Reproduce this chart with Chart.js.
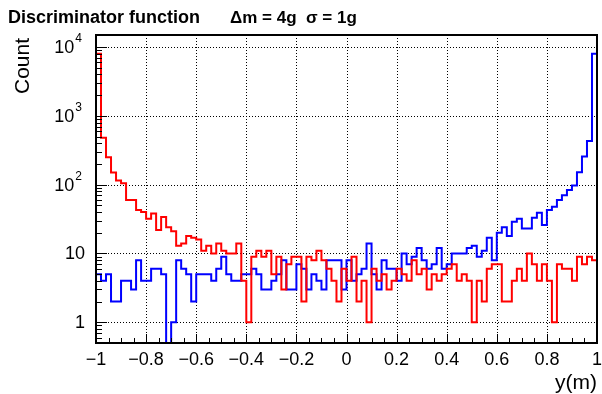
<!DOCTYPE html>
<html>
<head>
<meta charset="utf-8">
<script src="https://cdn.jsdelivr.net/npm/chart.js@4.4.1/dist/chart.umd.min.js"></script>
<style>
  html, body { margin: 0; padding: 0; background: #fff; }
  #wrap { width: 602px; height: 394px; position: relative; }
</style>
</head>
<body>
<div id="wrap"><canvas id="c" width="602" height="394"></canvas></div>
<script>
// ---- data ----
const X_MIN = -1, X_MAX = 1, N_BINS = 100;
const titleMain = 'Discriminator function';
const titleSub = '\u0394m = 4g  \u03C3 = 1g';
const yTitle = 'Count';
const xTitle = 'y(m)';
const xTickValues = [-1, -0.8, -0.6, -0.4, -0.2, 0, 0.2, 0.4, 0.6, 0.8, 1];
const xTickLabels = ['\u22121', '\u22120.8', '\u22120.6', '\u22120.4', '\u22120.2', '0', '0.2', '0.4', '0.6', '0.8', '1'];
const yDecades = [1, 10, 100, 1000, 10000];
const yDecadeLabels = [['1', ''], ['10', ''], ['10', '2'], ['10', '3'], ['10', '4']];

const redCounts = [
  8000, 480, 250, 150, 115, 105, 60, 60, 43, 40,
  32, 38, 22, 34, 24, 21, 13, 14, 18, 17,
  16, 11, 13, 10, 14, 11, 10, 10, 14, 4,
  1, 9, 11, 9, 11, 5, 9, 3, 7, 9,
  9, 2, 9, 8, 11, 8, 6, 4, 2, 6,
  4, 9, 2, 4, 1, 6, 4, 5, 3, 4,
  6, 5, 4, 8, 5, 6, 3, 5, 4, 5,
  6, 7, 4, 5, 4, 1, 4, 2, 6, 7,
  7, 2, 2, 4, 6, 4, 10, 7, 4, 7,
  4, 1, 7, 6, 6, 4, 9, 7, 9, 8
];
const blueCounts = [
  5, 4, 5, 2, 2, 4, 4, 3, 8, 4,
  4, 6, 6, 5, 0, 1, 8, 6, 5, 2,
  5, 5, 5, 4, 6, 9, 5, 4, 4, 5,
  5, 6, 5, 3, 3, 4, 5, 8, 3, 3,
  7, 6, 3, 5, 4, 3, 8, 8, 8, 3,
  8, 4, 5, 6, 14, 5, 3, 8, 6, 6,
  4, 10, 7, 9, 12, 8, 6, 7, 12, 6,
  7, 10, 10, 10, 12, 13, 9, 11, 17, 8,
  20, 24, 18, 29, 32, 23, 23, 33, 39, 26,
  43, 48, 60, 70, 84, 97, 152, 256, 431, 8000
];

const Y_MIN = 0.5, Y_MAX = 15000;
const ZERO_DRAW = 0.05; // zero counts drop below the frame (log axis)

function stepPoints(counts) {
  const w = (X_MAX - X_MIN) / counts.length;
  const pts = [{ x: X_MIN, y: ZERO_DRAW }];
  counts.forEach((c, i) => {
    const v = c > 0 ? c : ZERO_DRAW;
    pts.push({ x: X_MIN + i * w, y: v });
    pts.push({ x: X_MIN + (i + 1) * w, y: v });
  });
  pts.push({ x: X_MAX, y: ZERO_DRAW });
  return pts;
}

const FONT = '"Liberation Sans", Arial, Helvetica, sans-serif';

const rootPlugin = {
  id: 'rootFrame',
  beforeDatasetsDraw(chart) {
    const { ctx, chartArea: a, scales: { x, y } } = chart;
    ctx.save();
    ctx.strokeStyle = '#000';
    ctx.lineWidth = 1;
    ctx.setLineDash([1, 2]);
    xTickValues.forEach(v => {
      if (v <= X_MIN || v >= X_MAX) return;
      const px = Math.round(x.getPixelForValue(v)) + 0.5;
      ctx.beginPath(); ctx.moveTo(px, a.top); ctx.lineTo(px, a.bottom); ctx.stroke();
    });
    yDecades.forEach(v => {
      const py = Math.round(y.getPixelForValue(v)) + 0.5;
      ctx.beginPath(); ctx.moveTo(a.left, py); ctx.lineTo(a.right, py); ctx.stroke();
    });
    ctx.restore();
  },
  afterDraw(chart) {
    const { ctx, chartArea: a, scales: { x, y } } = chart;
    ctx.save();
    ctx.strokeStyle = '#000';
    ctx.lineWidth = 1;
    // x ticks (major every 0.2, minor every 0.05) inside frame
    for (let k = 0; k <= 40; k++) {
      const v = X_MIN + k * 0.05;
      const px = Math.round(x.getPixelForValue(v)) + 0.5;
      const len = (k % 4 === 0) ? 9 : 5;
      ctx.beginPath(); ctx.moveTo(px, a.bottom); ctx.lineTo(px, a.bottom - len); ctx.stroke();
    }
    // y ticks (log: majors at decades, minors 2..9)
    for (let d = 0.1; d <= 10000; d *= 10) {
      for (let m = 1; m <= 9; m++) {
        const v = d * m;
        if (v < Y_MIN || v > Y_MAX) continue;
        const py = Math.round(y.getPixelForValue(v)) + 0.5;
        const len = m === 1 ? 11 : 6;
        ctx.beginPath(); ctx.moveTo(a.left, py); ctx.lineTo(a.left + len, py); ctx.stroke();
      }
    }
    // frame
    ctx.lineWidth = 2;
    ctx.strokeRect(a.left, a.top, a.right - a.left, a.bottom - a.top);

    // y labels
    ctx.fillStyle = '#000';
    ctx.textBaseline = 'middle';
    yDecades.forEach((v, i) => {
      const py = y.getPixelForValue(v);
      const [base, sup] = yDecadeLabels[i];
      if (sup) {
        ctx.font = '12px ' + FONT;
        ctx.textAlign = 'right';
        const supW = ctx.measureText(sup).width;
        ctx.fillText(sup, 82, py - 8);
        ctx.font = '18px ' + FONT;
        ctx.fillText(base, 82 - supW - 1, py + 1);
      } else {
        ctx.font = '18px ' + FONT;
        ctx.textAlign = 'right';
        ctx.fillText(base, 85, py + 1);
      }
    });

    // titles
    ctx.textBaseline = 'alphabetic';
    ctx.textAlign = 'left';
    ctx.font = 'bold 18px ' + FONT;
    ctx.fillText(titleMain, 8, 23);
    ctx.font = 'bold 17px ' + FONT;
    ctx.fillText(titleSub, 230, 23);

    ctx.font = '21px ' + FONT;
    ctx.textAlign = 'right';
    ctx.fillText(xTitle, a.right, 389);

    ctx.save();
    ctx.translate(29, a.top + 3);
    ctx.rotate(-Math.PI / 2);
    ctx.textAlign = 'right';
    ctx.fillText(yTitle, 0, 0);
    ctx.restore();
    ctx.restore();
  }
};

new Chart(document.getElementById('c'), {
  type: 'line',
  data: {
    datasets: [
      {
        label: 'red',
        data: stepPoints(redCounts),
        borderColor: '#ff0000',
        borderWidth: 2,
        pointRadius: 0,
        tension: 0,
        fill: false
      },
      {
        label: 'blue',
        data: stepPoints(blueCounts),
        borderColor: '#0000ff',
        borderWidth: 2,
        pointRadius: 0,
        tension: 0,
        fill: false
      }
    ]
  },
  options: {
    responsive: false,
    animation: false,
    parsing: false,
    layout: { padding: { left: 0, right: 0, top: 35, bottom: 0 } },
    plugins: { legend: { display: false }, tooltip: { enabled: false }, title: { display: false } },
    scales: {
      x: {
        type: 'linear',
        min: X_MIN,
        max: X_MAX,
        afterBuildTicks: (s) => { s.ticks = xTickValues.map(v => ({ value: v })); },
        afterFit: (s) => { s.height = 51; s.paddingRight = 5; s.paddingLeft = 0; },
        grid: { display: false, drawTicks: false },
        border: { display: false },
        ticks: {
          autoSkip: false,
          maxRotation: 0,
          padding: 6,
          color: '#000',
          font: { size: 18, family: FONT },
          callback: (v, i) => xTickLabels[i]
        }
      },
      y: {
        type: 'logarithmic',
        min: Y_MIN,
        max: Y_MAX,
        afterFit: (s) => { s.width = 96; },
        grid: { display: false, drawTicks: false },
        border: { display: false },
        ticks: { display: false }
      }
    }
  },
  plugins: [rootPlugin]
});
</script>
</body>
</html>
